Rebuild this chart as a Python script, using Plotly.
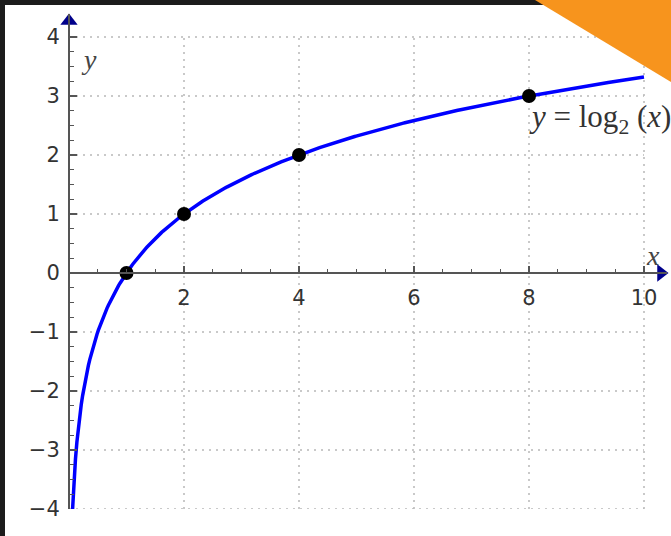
import numpy as np
import plotly.graph_objects as go

# ---- data ----
x_ticks = [2, 4, 6, 8, 10]
y_ticks = [-4, -3, -2, -1, 0, 1, 2, 3, 4]
point_x = [1, 2, 4, 8]
point_y = [0, 1, 2, 3]
curve_x = np.linspace(2 ** -4, 10, 400)
curve_y = np.log2(curve_x)

W, H = 671, 536
# pixel mapping of the reference
X0PX, XPU = 69, 57.5      # x=0 pixel, px per unit
Y0PX, YPU = 273, 59       # y=0 pixel, px per unit
XEND_PX = 667
YBOT_PX, YTOP_PX = 509, 14

x_range = [0, (XEND_PX - X0PX) / XPU]
y_range = [-4, (Y0PX - YTOP_PX) / YPU]

fig = go.Figure()

# curve
fig.add_trace(go.Scatter(x=curve_x, y=curve_y, mode="lines",
                         line=dict(color="#0000ff", width=3.5), hoverinfo="skip"))
# highlighted points
fig.add_trace(go.Scatter(x=point_x, y=point_y, mode="markers",
                         marker=dict(color="black", size=14), cliponaxis=False))
# axis arrows
fig.add_trace(go.Scatter(x=[0], y=[(Y0PX - 21) / YPU], mode="markers",
                         marker=dict(symbol="triangle-up", size=15, color="#00008b"),
                         cliponaxis=False))
fig.add_trace(go.Scatter(x=[(661 - X0PX) / XPU], y=[0], mode="markers",
                         marker=dict(symbol="triangle-right", size=15, color="#00008b"),
                         cliponaxis=False))

shapes = []
grid = dict(color="#b8b8b8", width=1.5, dash="2px,5px")
for yv in y_ticks:
    if yv == 0:
        continue
    shapes.append(dict(type="line", xref="x", yref="y", x0=0, x1=10, y0=yv, y1=yv,
                       line=grid, layer="below"))
for xv in x_ticks:
    shapes.append(dict(type="line", xref="x", yref="y", x0=xv, x1=xv, y0=-4, y1=4,
                       line=grid, layer="below"))
# dark frame strips
shapes.append(dict(type="rect", xref="paper", yref="paper", x0=0, x1=5 / W, y0=0, y1=1,
                   fillcolor="#1c1c1c", line=dict(width=0), layer="above"))
shapes.append(dict(type="rect", xref="paper", yref="paper", x0=0, x1=1, y0=1 - 5 / H, y1=1,
                   fillcolor="#1c1c1c", line=dict(width=0), layer="above"))
# orange corner triangle
shapes.append(dict(type="path", xref="paper", yref="paper",
                   path=f"M {535 / W},1 L 1,1 L 1,{1 - 82 / H} Z",
                   fillcolor="#f7941d", line=dict(width=0), layer="above"))

tickfont = dict(family="DejaVu Sans", size=21, color="#333333")

fig.update_layout(
    width=W, height=H,
    margin=dict(l=0, r=0, t=0, b=0),
    paper_bgcolor="white", plot_bgcolor="white",
    showlegend=False,
    shapes=shapes,
    xaxis=dict(
        domain=[X0PX / W, XEND_PX / W], range=x_range,
        anchor="free", position=(H - Y0PX) / H, side="bottom",
        showgrid=False, zeroline=False, showline=True, linecolor="#555555", linewidth=2,
        tickmode="array", tickvals=x_ticks, ticks="inside", ticklen=6, tickwidth=1.5,
        tickcolor="#555555", tickfont=tickfont, ticklabelstandoff=6,
        minor=dict(tickvals=[v / 2 for v in range(1, 21)], ticks="inside", ticklen=3,
                   tickwidth=1.2, tickcolor="#555555", showgrid=False),
        automargin=False, fixedrange=True,
    ),
    yaxis=dict(
        domain=[(H - YBOT_PX) / H, (H - YTOP_PX) / H], range=y_range,
        anchor="free", position=X0PX / W, side="left",
        showgrid=False, zeroline=False, showline=True, linecolor="#555555", linewidth=2,
        tickmode="array", tickvals=y_ticks, ticks="inside", ticklen=7, tickwidth=1.5,
        tickcolor="#555555", tickfont=tickfont, ticklabelstandoff=4,
        minor=dict(tickvals=[v / 4 for v in range(-16, 17)], ticks="inside", ticklen=4,
                   tickwidth=1.2, tickcolor="#555555", showgrid=False),
        automargin=False, fixedrange=True,
    ),
    annotations=[
        dict(x=(527 - X0PX) / XPU, y=(Y0PX - 119) / YPU, xref="x", yref="y",
             text="<i>y</i> = log<sub>2</sub> (<i>x</i>)", showarrow=False,
             xanchor="left", yanchor="middle",
             font=dict(family="Liberation Serif", size=31, color="#333333")),
        dict(x=(89 - X0PX) / XPU, y=(Y0PX - 59) / YPU, xref="x", yref="y",
             text="<i>y</i>", showarrow=False, xanchor="center", yanchor="middle",
             font=dict(family="Liberation Serif", size=28, color="#444444")),
        dict(x=(653 - X0PX) / XPU, y=(Y0PX - 255) / YPU, xref="x", yref="y",
             text="<i>x</i>", showarrow=False, xanchor="center", yanchor="middle",
             font=dict(family="Liberation Serif", size=28, color="#444444")),
    ],
)

fig.write_html("out.html", config={"displayModeBar": False},
               post_script="document.body.style.margin='0';document.body.style.overflow='hidden';")
